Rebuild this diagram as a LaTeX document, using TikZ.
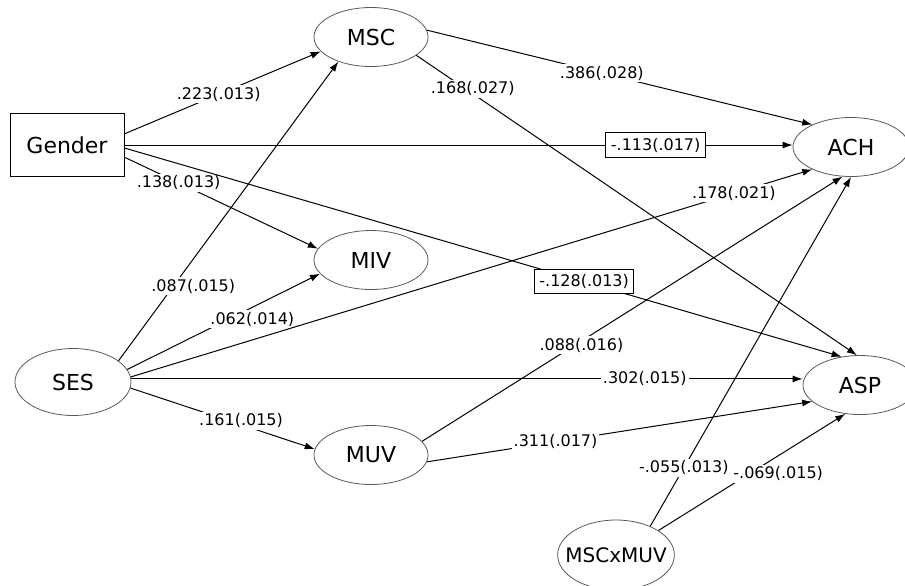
\documentclass[tikz,border=0pt]{standalone}
\usepackage{fontspec}
\setmainfont{DejaVu Sans}
\usetikzlibrary{arrows.meta, shapes.geometric, positioning}

\begin{document}
\begin{tikzpicture}[x=0.5pt, y=-0.5pt]
    % Define styles
    \tikzset{
        observed/.style={draw, line width=0.5pt, minimum width=57pt, minimum height=31.5pt, font=\fontsize{11}{13}\selectfont},
        latent/.style={ellipse, draw=black!65, line width=0.4pt, inner sep=0pt, minimum width=57pt, minimum height=29.5pt, font=\fontsize{11}{13}\selectfont},
        effect/.style={->, >={Latex[length=5pt,width=3.5pt]}, line width=0.5pt},
        coef/.style={fill=white, inner sep=1pt, font=\fontsize{8}{10}\selectfont},
        coefbox/.style={coef, draw, line width=0.5pt, inner sep=2.5pt}
    }
    \useasboundingbox (0,0) rectangle (905,585);
    % Exogenous variables
    \node[observed] (gender) at (67,145) {Gender};
    \node[latent, minimum width=58pt, minimum height=33.5pt] (ses) at (73,382) {SES};
    % Mediators
    \node[latent] (msc) at (371,37) {MSC};
    \node[latent] (miv) at (371,260) {MIV};
    \node[latent] (muv) at (371,455) {MUV};
    \node[latent, font=\fontsize{10}{12}\selectfont, inner xsep=-4.7pt, minimum width=58pt, minimum height=35pt] (mscmuv) at (616,555) {MSCxMUV};
    % Outcomes
    \node[latent, minimum width=58pt] (ach) at (851,147) {ACH};
    \node[latent] (asp) at (860,385) {ASP};
    % Paths from Gender
    \draw[effect] (gender.11) -- (msc.196) node[coef, pos=0.48] {.223(.013)};
    \draw[effect] (gender.east) -- (gender.east -| ach.west) node[coefbox, pos=0.795] {-.113(.017)};
    \draw[effect] (gender.-12) -- (miv.168) node[coef, pos=0.28] {.138(.013)};
    \draw[effect] (gender.-3) -- (asp.123) node[coefbox, pos=0.641] {-.128(.013)};
    % Paths from SES
    \draw[effect] (ses.25) -- (msc.217) node[coef, pos=0.249, xshift=10pt] {.087(.015)};
    \draw[effect] (ses.13) -- (miv.195) node[coef, pos=0.649, yshift=-6pt] {.062(.014)};
    \draw[effect] (ses.5) -- (ach.210) node[coef, pos=0.885] {.178(.021)};
    \draw[effect] (ses.3) -- (ses.3 -| asp.west) node[coef, pos=0.765] {.302(.015)};
    \draw[effect] (ses.-6) -- (muv.174) node[coef, pos=0.6, yshift=2pt] {.161(.015)};
    % Paths from MSC
    \draw[effect] (msc.7) -- (ach.150) node[coef, pos=0.454] {.386(.028)};
    \draw[effect] (msc.-22) -- (asp.96) node[coef, pos=0.128, yshift=2.5pt] {.168(.027)};
    % Paths from MUV
    \draw[effect] (muv.15) -- (ach.254) node[coef, pos=0.379, yshift=-2pt] {.088(.016)};
    \draw[effect] (muv.-7) -- (asp.199) node[coef, pos=0.334] {.311(.017)};
    % Paths from the interaction term
    \draw[effect] (mscmuv.40) -- (ach.270) node[coef, pos=0.167] {-.055(.013)};
    \draw[effect] (mscmuv.30) -- (asp.243) node[coef, pos=0.641, yshift=-9pt] {-.069(.015)};
\end{tikzpicture}
\end{document}
